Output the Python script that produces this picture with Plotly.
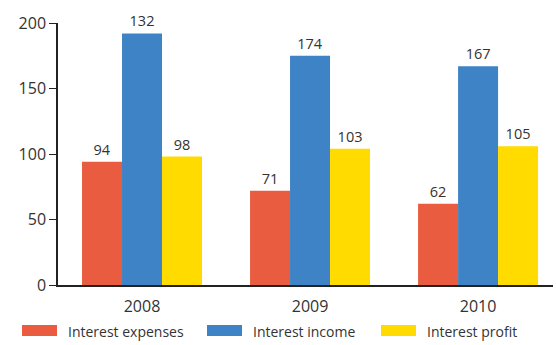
import plotly.graph_objects as go

years = ["2008", "2009", "2010"]
series_names = ["Interest expenses", "Interest income", "Interest profit"]
expenses = [94, 72, 62]
income = [192, 175, 167]
profit = [98, 104, 106]
expenses_labels = ["94", "71", "62"]
income_labels = ["132", "174", "167"]
profit_labels = ["98", "103", "105"]
colors = ["#EA5C3F", "#3E83C5", "#FFDB00"]
y_ticks = [0, 50, 100, 150, 200]

font_family = "Open Sans, DejaVu Sans, sans-serif"
text_color = "#333333"

fig = go.Figure()
for name, vals, labs, col in zip(series_names, [expenses, income, profit],
                                 [expenses_labels, income_labels, profit_labels], colors):
    fig.add_trace(go.Bar(
        x=years, y=vals, name=name, marker_color=col, marker_line_width=0,
        text=labs, textposition="outside", cliponaxis=False,
        textfont=dict(size=14.5, color=text_color, family=font_family),
        showlegend=False,
    ))

# custom legend (wide swatches)
legend_x = [22, 207, 381]
for i, (name, col) in enumerate(zip(series_names, colors)):
    x0 = legend_x[i]
    fig.add_shape(type="rect", xref="paper", yref="paper",
                  x0=(x0 - 58) / 495, x1=(x0 + 35 - 58) / 495,
                  y0=(285 - 336) / 262, y1=(285 - 325) / 262,
                  fillcolor=col, line_width=0)
    fig.add_annotation(xref="paper", yref="paper",
                       x=(x0 + 44 - 58) / 495, y=(285 - 331) / 262,
                       text=name, showarrow=False, xanchor="left", yanchor="middle",
                       font=dict(size=14, color=text_color, family=font_family))

fig.update_layout(
    width=556, height=345,
    margin=dict(l=58, r=3, t=23, b=60),
    paper_bgcolor="white", plot_bgcolor="white",
    barmode="group", bargap=0.286, bargroupgap=0,
    font=dict(family=font_family, color=text_color, size=16),
    xaxis=dict(range=[-0.5, 2.446], showline=True, linecolor="#222222", linewidth=1.5,
               ticks="", showgrid=False, ticklabelstandoff=6,
               tickfont=dict(size=16, color=text_color)),
    yaxis=dict(range=[0, 200], tickvals=y_ticks, showline=True, linecolor="#222222",
               linewidth=1.5, ticks="outside", ticklen=7, tickcolor="#222222",
               showgrid=False, zeroline=False, tickfont=dict(size=16, color=text_color)),
)

fig.write_html("out.html")
